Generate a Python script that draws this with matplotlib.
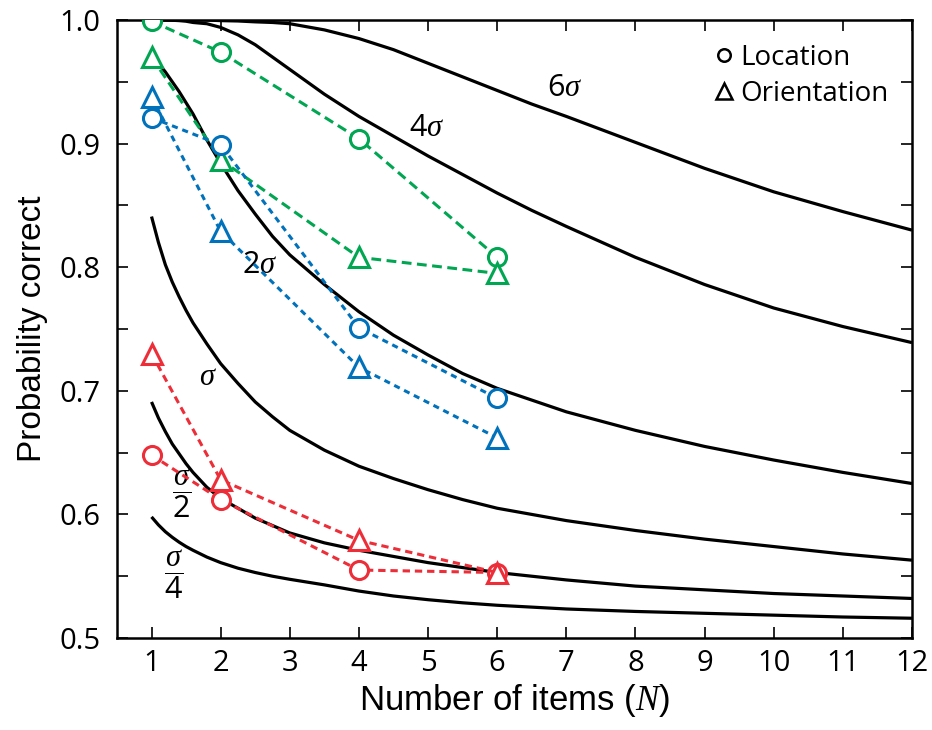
import matplotlib
matplotlib.use('Agg')

import matplotlib.pyplot as plt
from matplotlib.lines import Line2D
from matplotlib.ticker import MultipleLocator

plt.rcParams['font.family'] = ['Open Sans', 'DejaVu Sans']
plt.rcParams['mathtext.fontset'] = 'custom'
plt.rcParams['mathtext.rm'] = 'Open Sans'
plt.rcParams['mathtext.it'] = 'Liberation Serif:italic'

# model curves
curve_n = [1, 1.1, 1.2, 1.3, 1.4, 1.5, 1.6, 1.8, 2, 2.25, 2.5, 2.75, 3, 3.5, 4,
           4.5, 5, 5.5, 6, 6.5, 7, 8, 9, 10, 11, 12]
curve_6s = [1.000, 1.000, 1.000, 1.000, 1.000, 1.000, 1.000, 1.000, 0.9995, 0.9992,
            0.9985, 0.998, 0.997, 0.992, 0.985, 0.976, 0.965, 0.954, 0.943, 0.932,
            0.922, 0.901, 0.880, 0.861, 0.845, 0.830]
curve_4s = [1.000, 1.000, 1.000, 0.9998, 0.9995, 0.999, 0.998, 0.997, 0.994, 0.988,
            0.980, 0.970, 0.960, 0.940, 0.922, 0.906, 0.890, 0.875, 0.860, 0.846,
            0.833, 0.808, 0.786, 0.767, 0.752, 0.739]
curve_2s = [0.970, 0.965, 0.958, 0.950, 0.942, 0.933, 0.924, 0.903, 0.884, 0.862,
            0.843, 0.825, 0.810, 0.786, 0.764, 0.745, 0.729, 0.714, 0.702, 0.6925,
            0.683, 0.668, 0.655, 0.644, 0.634, 0.625]
curve_1s = [0.841, 0.820, 0.802, 0.788, 0.776, 0.765, 0.755, 0.738, 0.722, 0.706,
            0.691, 0.679, 0.668, 0.652, 0.639, 0.629, 0.620, 0.612, 0.605, 0.600,
            0.595, 0.587, 0.580, 0.574, 0.568, 0.563]
curve_half = [0.691, 0.678, 0.667, 0.657, 0.649, 0.641, 0.634, 0.622, 0.613, 0.605,
              0.597, 0.591, 0.585, 0.577, 0.571, 0.566, 0.561, 0.557, 0.553, 0.550,
              0.547, 0.542, 0.539, 0.536, 0.534, 0.532]
curve_quarter = [0.598, 0.5915, 0.586, 0.5815, 0.5775, 0.574, 0.571, 0.5655, 0.561, 0.5565,
                 0.553, 0.550, 0.5475, 0.543, 0.538, 0.534, 0.531, 0.5285, 0.5265, 0.525,
                 0.5235, 0.5215, 0.520, 0.5185, 0.517, 0.516]

curve_labels = ['6$\\sigma$', '4$\\sigma$', '2$\\sigma$', '$\\sigma$',
                r'$\dfrac{\sigma}{2}$', r'$\dfrac{\sigma}{4}$']
label_pos = [(6.98, 0.945), (4.98, 0.913), (2.56, 0.802), (1.82, 0.711),
             (1.43, 0.617), (1.32, 0.551)]

# observed data
set_sizes = [1, 2, 4, 6]
green_loc = [0.999, 0.974, 0.904, 0.808]
green_ori = [0.970, 0.887, 0.808, 0.795]
blue_loc = [0.921, 0.899, 0.751, 0.694]
blue_ori = [0.938, 0.829, 0.719, 0.662]
red_loc = [0.648, 0.612, 0.555, 0.553]
red_ori = [0.730, 0.628, 0.579, 0.553]

GREEN = '#00a651'
BLUE = '#0072bc'
RED = '#ed2e38'

fig = plt.figure(figsize=(9.32, 7.30), dpi=100)
ax = fig.add_axes([0.1255, 0.126, 0.853, 0.8466])

for vals in [curve_6s, curve_4s, curve_2s, curve_1s, curve_half, curve_quarter]:
    ax.plot(curve_n, vals, color='black', lw=2.3, zorder=2, solid_capstyle='butt',
            solid_joinstyle='round')

for txt, (x, y) in zip(curve_labels, label_pos):
    ax.text(x, y, txt, fontsize=22, ha='center', va='center', zorder=3)

series = [
    (green_loc, GREEN, 'o', (3.2, 1.8)),
    (green_ori, GREEN, '^', (3.2, 1.8)),
    (blue_loc, BLUE, 'o', (2.0, 1.6)),
    (blue_ori, BLUE, '^', (2.0, 1.6)),
    (red_loc, RED, 'o', (2.4, 1.6)),
    (red_ori, RED, '^', (2.4, 1.6)),
]
for vals, col, mk, dash in series:
    ax.plot(set_sizes, vals, color=col, lw=2.2, dashes=dash, marker=mk,
            markersize=13 if mk == 'o' else 14, markerfacecolor='white',
            markeredgecolor=col, markeredgewidth=2.2, zorder=4)

handles = [
    Line2D([], [], ls='none', marker='o', markersize=9, markerfacecolor='none',
           markeredgecolor='black', markeredgewidth=1.8),
    Line2D([], [], ls='none', marker='^', markersize=11, markerfacecolor='none',
           markeredgecolor='black', markeredgewidth=1.8),
]
ax.legend(handles, ['Location', 'Orientation'], loc='upper right', frameon=False,
          fontsize=20, handletextpad=0.1, labelspacing=0.28, handlelength=1.0,
          borderaxespad=0.3, bbox_to_anchor=(0.995, 0.993))

ax.set_xlim(0.5, 12)
ax.set_ylim(0.5, 1.0)
ax.xaxis.set_major_locator(MultipleLocator(1))
ax.yaxis.set_minor_locator(MultipleLocator(0.05))
ax.set_yticks([0.5, 0.6, 0.7, 0.8, 0.9, 1.0])
ax.set_yticklabels(['0.5', '0.6', '0.7', '0.8', '0.9', '1.0'])
ax.tick_params(which='both', direction='in', length=8, width=1.2,
               top=True, right=True, labelsize=21)
ax.tick_params(axis='y', pad=12)
ax.tick_params(axis='x', pad=8)
for sp in ax.spines.values():
    sp.set_linewidth(1.8)

ax.set_xlabel('Number of items ($N$)', fontsize=25, labelpad=3,
              family=['Liberation Sans', 'DejaVu Sans'])
ax.set_ylabel('Probability correct', fontsize=24, labelpad=8,
              family=['Liberation Sans', 'DejaVu Sans'])

fig.savefig('out.png', dpi=100)
